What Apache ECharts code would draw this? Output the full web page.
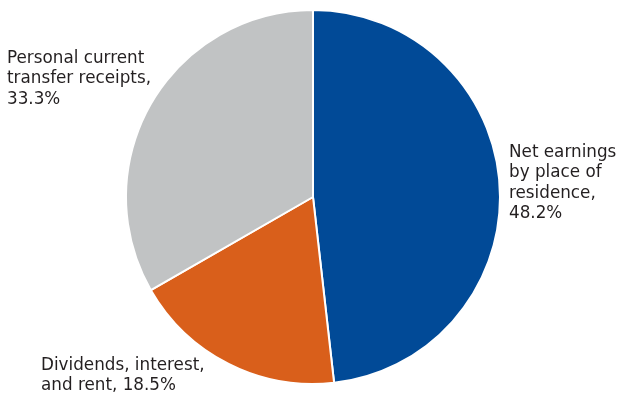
<!DOCTYPE html>
<html>
<head>
<meta charset="utf-8">
<script src="https://cdn.jsdelivr.net/npm/echarts@6/dist/echarts.min.js"></script>
<style>
  html, body { margin: 0; padding: 0; background: #fff; }
  #chart { width: 622px; height: 398px; }
</style>
</head>
<body>
<div id="chart"></div>
<script>
// Sources of personal income, share of total
const categories = ['Net earnings\nby place of\nresidence', 'Dividends, interest,\nand rent', 'Personal current\ntransfer receipts'];
const shares = [48.2, 18.5, 33.3];
const separators = ['\n', ' ', '\n'];
const colors = ['#014a97', '#d95f1b', '#c1c3c4'];

// label anchor positions (left edge, top) for each slice label
const labelPos = [[509, 142], [41, 355], [7, 48]];

const chart = echarts.init(document.getElementById('chart'));
chart.setOption({
  animation: false,
  series: [{
    type: 'pie',
    center: [313, 197],
    radius: [0, 187],
    startAngle: 90,
    clockwise: true,
    data: categories.map((name, i) => ({
      name: name,
      value: shares[i],
      itemStyle: { color: colors[i] }
    })),
    itemStyle: { borderColor: '#ffffff', borderWidth: 2 },
    label: {
      show: true,
      position: 'outside',
      color: '#231f20',
      fontFamily: 'DejaVu Sans',
      fontSize: 16.8,
      lineHeight: 20.5,
      align: 'left',
      overflow: 'none',
      width: 300,
      formatter: p => p.name + ',' + separators[p.dataIndex] + p.value.toFixed(1) + '%'
    },
    labelLine: { show: false },
    labelLayout: p => ({
      x: labelPos[p.dataIndex][0],
      y: labelPos[p.dataIndex][1],
      align: 'left',
      verticalAlign: 'top'
    })
  }]
});
</script>
</body>
</html>
